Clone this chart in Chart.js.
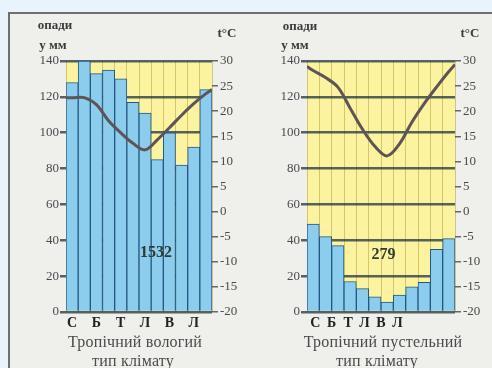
<!DOCTYPE html>
<html lang="uk">
<head>
<meta charset="UTF-8">
<title>Кліматограми</title>
<script src="https://cdn.jsdelivr.net/npm/chart.js"></script>
<style>
  body { margin: 0; width: 492px; height: 368px; background: #e8f3fb; position: relative; overflow: hidden;
         font-family: "Liberation Serif", "DejaVu Serif", serif; }
  #frame { position: absolute; left: 8px; top: 12px; width: 484px; height: 356px; background: #efefec;
           border-left: 2px solid #6f6f6f; border-top: 2px solid #6f6f6f; }
  .panel { position: absolute; top: 12px; height: 322px; }
  .lbl { position: absolute; transform: translate(-50%, -50%); white-space: nowrap; color: #3b3b3b; font-weight: bold; font-size: 13px; }
  .cap { position: absolute; transform: translate(-50%, -50%); white-space: nowrap; color: #4a4a4a; font-size: 16px; letter-spacing: 0.2px; }
</style>
</head>
<body>
<div id="frame"></div>

<div class="panel" style="left:10px; width:236px;"><canvas id="wetChart"></canvas></div>
<div class="panel" style="left:246px; width:246px;"><canvas id="dryChart"></canvas></div>

<!-- axis titles -->
<div class="lbl" style="left:55px; top:25px;">опади</div>
<div class="lbl" style="left:53px; top:45px;">у мм</div>
<div class="lbl" style="left:227px; top:33px;">t°C</div>
<div class="lbl" style="left:300px; top:26px;">опади</div>
<div class="lbl" style="left:295px; top:45px;">у мм</div>
<div class="lbl" style="left:470px; top:33px;">t°C</div>

<!-- captions -->
<div class="cap" style="left:135px; top:342px;">Тропічний вологий</div>
<div class="cap" style="left:133px; top:361px;">тип клімату</div>
<div class="cap" style="left:383px; top:342px;">Тропічний пустельний</div>
<div class="cap" style="left:377px; top:361px;">тип клімату</div>

<script>
// months (Ukrainian initials)
var months = ['С', 'Л', 'Б', 'К', 'Т', 'Ч', 'Л', 'С', 'В', 'Ж', 'Л', 'Г'];
var wetMonthLabels = ['С', '', 'Б', '', 'Т', '', 'Л', '', 'В', '', 'Л', ''];
// the desert panel prints its letters squeezed to the left
var dryMonthLabels = ['С', 'Б', 'Т', 'Л', 'В', 'Л', '', '', ''];
var precipTicks = [0, 20, 40, 60, 80, 100, 120, 140];
var tempTicks = [30, 25, 20, 15, 10, 5, 0, -5, -10, -15, -20];

// tropical wet
var precipWet = [128, 140, 133, 135, 130, 117, 111, 85, 100, 82, 92, 124];
var tempWet = [22.7, 22.7, 21.3, 18.1, 15.7, 13.6, 12.3, 14.3, 16.7, 19.2, 21.5, 23.5];
var tempWetEnds = [22.7, 24.3];
var totalWet = '1532';

// tropical desert
var precipDry = [49, 42, 37, 17, 13, 8.5, 5.5, 9.5, 14, 16.5, 35, 41];
var tempDry = [28.1, 26.7, 24.8, 20.6, 16.4, 13.0, 11.1, 13.5, 17.8, 21.5, 24.8, 27.9];
var tempDryEnds = [28.9, 29.3];
var totalDry = '279';

var YELLOW = '#fbf39f';
var BLUE = '#8ccdee';
var SERIF = '"Liberation Serif", serif';

// fills plot area yellow and writes annual total
var climatePlugin = {
    id: 'climate',
    beforeDraw: function (chart) {
        var a = chart.chartArea, ctx = chart.ctx;
        ctx.save();
        ctx.fillStyle = YELLOW;
        ctx.fillRect(a.left, a.top, a.right - a.left, a.bottom - a.top);
        ctx.restore();
    },
    afterDraw: function (chart) {
        var o = chart.options.plugins.climate;
        var ctx = chart.ctx;
        ctx.save();
        ctx.font = 'bold 16px ' + SERIF;
        ctx.fillStyle = '#2f3a33';
        ctx.textAlign = 'center';
        ctx.textBaseline = 'middle';
        ctx.fillText(o.text, chart.scales.x2.getPixelForValue(o.atMonth), chart.scales.y.getPixelForValue(o.atMm));
        ctx.restore();
    }
};

function tempPoints(temps, ends) {
    var pts = [{ x: 0, y: ends[0] }];
    temps.forEach(function (t, i) { pts.push({ x: i + 0.5, y: t }); });
    pts.push({ x: 12, y: ends[1] });
    return pts;
}

function makeChart(id, precip, temps, ends, total, totalAt, monthLabels, leftW, rightW) {
    var ctx = document.getElementById(id).getContext('2d');
    var monthFont = { family: SERIF, size: 14, weight: 'bold' };
    return new Chart(ctx, {
        type: 'bar',
        data: {
            labels: months,
            datasets: [{
                data: precip,
                xAxisID: 'x',
                yAxisID: 'y',
                backgroundColor: BLUE,
                borderColor: '#245783',
                borderWidth: { left: 1, right: 1, top: 1, bottom: 0 },
                borderSkipped: false,
                grouped: false,
                barPercentage: 1,
                categoryPercentage: 1,
                order: 2
            }, {
                type: 'line',
                data: tempPoints(temps, ends),
                xAxisID: 'x2',
                yAxisID: 'y2',
                borderColor: '#5e5457',
                borderWidth: 3,
                pointRadius: 0,
                tension: 0.35,
                order: 1
            }]
        },
        options: {
            responsive: true,
            maintainAspectRatio: false,
            animation: false,
            layout: { padding: { top: 49, left: 0, right: 0, bottom: 0 } },
            plugins: {
                legend: { display: false },
                tooltip: { enabled: false },
                climate: { text: total, atMonth: totalAt[0], atMm: totalAt[1] }
            },
            scales: {
                x: {
                    offset: true,
                    grid: { color: 'rgba(165,145,40,0.45)', lineWidth: 1, drawTicks: false },
                    border: { display: false },
                    ticks: { display: false },
                    afterFit: function (s) { s.height = 0; }
                },
                xMonths: {
                    type: 'category',
                    position: 'bottom',
                    labels: monthLabels,
                    offset: true,
                    grid: { display: false, drawTicks: false },
                    border: { display: false },
                    ticks: { autoSkip: false, maxRotation: 0, padding: 3, color: '#222', font: monthFont },
                    afterFit: function (s) { s.height = 22; }
                },
                x2: {
                    type: 'linear',
                    position: 'top',
                    offset: false,
                    min: 0, max: 12,
                    grid: { display: false, drawTicks: false, offset: false },
                    border: { display: false },
                    ticks: { display: false },
                    afterFit: function (s) { s.height = 0; }
                },
                y: {
                    position: 'left',
                    min: 0, max: 140,
                    z: 1,
                    afterBuildTicks: function (s) { s.ticks = precipTicks.map(function (v) { return { value: v }; }); },
                    grid: { color: 'rgba(24,42,60,0.72)', lineWidth: 2.5, tickLength: 6 },
                    border: { display: false },
                    ticks: { padding: 1, color: '#4a4a4a', font: { family: SERIF, size: 13 } },
                    afterFit: function (s) { s.width = leftW; }
                },
                y2: {
                    position: 'right',
                    min: -20, max: 30,
                    afterBuildTicks: function (s) { s.ticks = tempTicks.map(function (v) { return { value: v }; }); },
                    grid: { drawOnChartArea: false, color: 'rgba(70,70,70,0.8)', lineWidth: 1.5, tickLength: 6 },
                    border: { display: false },
                    ticks: { padding: 2, color: '#4a4a4a', font: { family: SERIF, size: 13 } },
                    afterFit: function (s) { s.width = rightW; }
                }
            }
        },
        plugins: [climatePlugin]
    });
}

makeChart('wetChart', precipWet, tempWet, tempWetEnds, totalWet, [7.4, 33], wetMonthLabels, 56, 34);
makeChart('dryChart', precipDry, tempDry, tempDryEnds, totalDry, [6.2, 32], dryMonthLabels, 61, 37);
</script>
</body>
</html>
